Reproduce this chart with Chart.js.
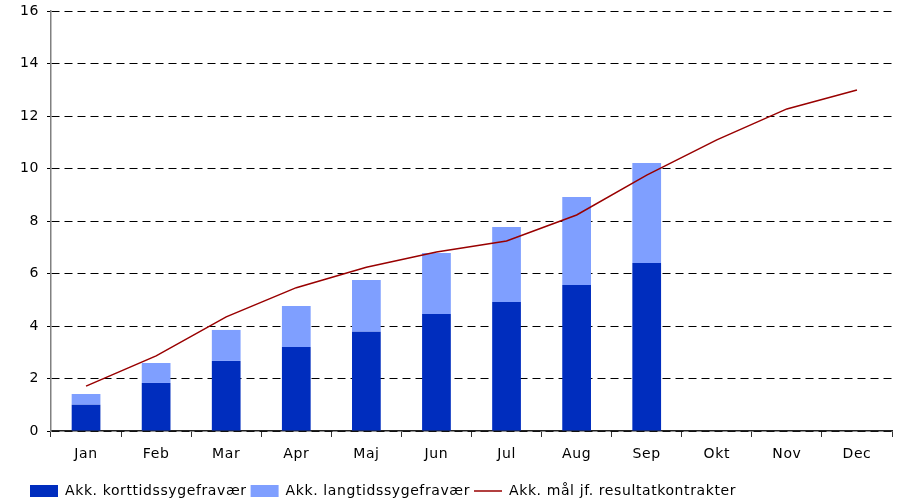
<!DOCTYPE html>
<html lang="da">
  <head>
    <meta charset="UTF-8" />
    <title>Akk. sygefravær</title>
    <style>
      html, body { margin: 0; padding: 0; background: #fff; }
      #wrap { width: 900px; height: 502px; }
    </style>
  </head>
  <body>
    <div id="wrap"><canvas id="fravaerChart"></canvas></div>
    <script src="https://cdn.jsdelivr.net/npm/chart.js"></script>
    <script>
      const months = ['Jan', 'Feb', 'Mar', 'Apr', 'Maj', 'Jun', 'Jul', 'Aug', 'Sep', 'Okt', 'Nov', 'Dec'];
      const korttid = [1.0, 1.83, 2.67, 3.2, 3.78, 4.46, 4.91, 5.56, 6.4];
      const langtid = [0.41, 0.76, 1.18, 1.56, 1.97, 2.32, 2.86, 3.35, 3.81];
      const maal = [1.71, 2.86, 4.35, 5.46, 6.24, 6.82, 7.24, 8.23, 9.75, 11.09, 12.27, 12.99];
      const yTicks = [0, 2, 4, 6, 8, 10, 12, 14, 16];

      const font = { family: "'DejaVu Sans', Verdana, sans-serif", size: 14 };
      Chart.defaults.font = font;
      Chart.defaults.color = '#000';

      // the original text is a bit wider (Verdana), so space the letters a little
      const spacing = {
        id: 'spacing',
        beforeUpdate: (c) => { c.ctx.letterSpacing = '0.6px'; },
        beforeDraw: (c) => { c.ctx.letterSpacing = '0.6px'; },
        // legend starts a bit right of the canvas edge
        afterLayout: (c) => { c.legend.left += 6; c.legend.right += 6; },
      };

      // legend order: bars first, then the line
      const legendRank = { 1: 0, 2: 1, 0: 2 };

      const context = document.getElementById('fravaerChart').getContext('2d');
      const chart = new Chart(context, {
        plugins: [spacing],
        data: {
          labels: months,
          datasets: [
            {
              label: 'Akk. mål jf. resultatkontrakter',
              type: 'line',
              data: maal,
              stack: 'maal',
              borderColor: '#990000',
              backgroundColor: '#990000',
              borderWidth: 1.5,
              pointRadius: 0,
              tension: 0,
              fill: false,
            },
            {
              label: 'Akk. korttidssygefravær',
              type: 'bar',
              data: korttid,
              stack: 'fravaer',
              backgroundColor: '#002DBE',
              borderWidth: 0,
              barPercentage: 0.41,
              categoryPercentage: 1,
            },
            {
              label: 'Akk. langtidssygefravær',
              type: 'bar',
              data: langtid,
              stack: 'fravaer',
              backgroundColor: '#7F9FFF',
              borderWidth: 0,
              barPercentage: 0.41,
              categoryPercentage: 1,
            },
          ],
        },
        options: {
          responsive: true,
          maintainAspectRatio: false,
          animation: false,
          layout: { padding: { left: 20, right: 8, top: 11, bottom: -6 } },
          plugins: {
            tooltip: { enabled: false },
            legend: {
              position: 'bottom',
              align: 'start',
              labels: {
                usePointStyle: true,
                pointStyleWidth: 28,
                boxHeight: 12,
                padding: 4,
                font: font,
                color: '#000',
                generateLabels: (c) => {
                  const items = Chart.defaults.plugins.legend.labels.generateLabels(c);
                  items.forEach((it) => {
                    it.pointStyle = it.datasetIndex === 0 ? 'line' : 'rect';
                    if (it.datasetIndex !== 0) it.lineWidth = 0;
                  });
                  return items;
                },
                sort: (a, b) => legendRank[a.datasetIndex] - legendRank[b.datasetIndex],
              },
            },
          },
          scales: {
            x: {
              stacked: true,
              offset: true,
              afterFit: (scale) => { scale.height = 49; },
              grid: {
                offset: true,
                drawOnChartArea: false,
                drawTicks: true,
                tickLength: 6,
                color: '#333',
              },
              border: { display: true, color: '#222', width: 1.5 },
              ticks: { padding: 9, maxRotation: 0, autoSkip: false, font: font },
            },
            y: {
              stacked: true,
              min: 0,
              max: 16,
              afterFit: (scale) => {
                scale.width = 31;
                scale.paddingTop = 0;
                scale.paddingBottom = 0;
              },
              afterBuildTicks: (scale) => { scale.ticks = yTicks.map((v) => ({ value: v })); },
              grid: {
                color: '#000',
                lineWidth: 1,
                tickLength: 4,
                tickColor: '#000',
                tickBorderDash: [],
              },
              border: { display: true, color: '#808080', width: 1.5, dash: [8, 5] },
              ticks: { padding: 8, font: font },
            },
          },
        },
      });
    </script>
  </body>
</html>
